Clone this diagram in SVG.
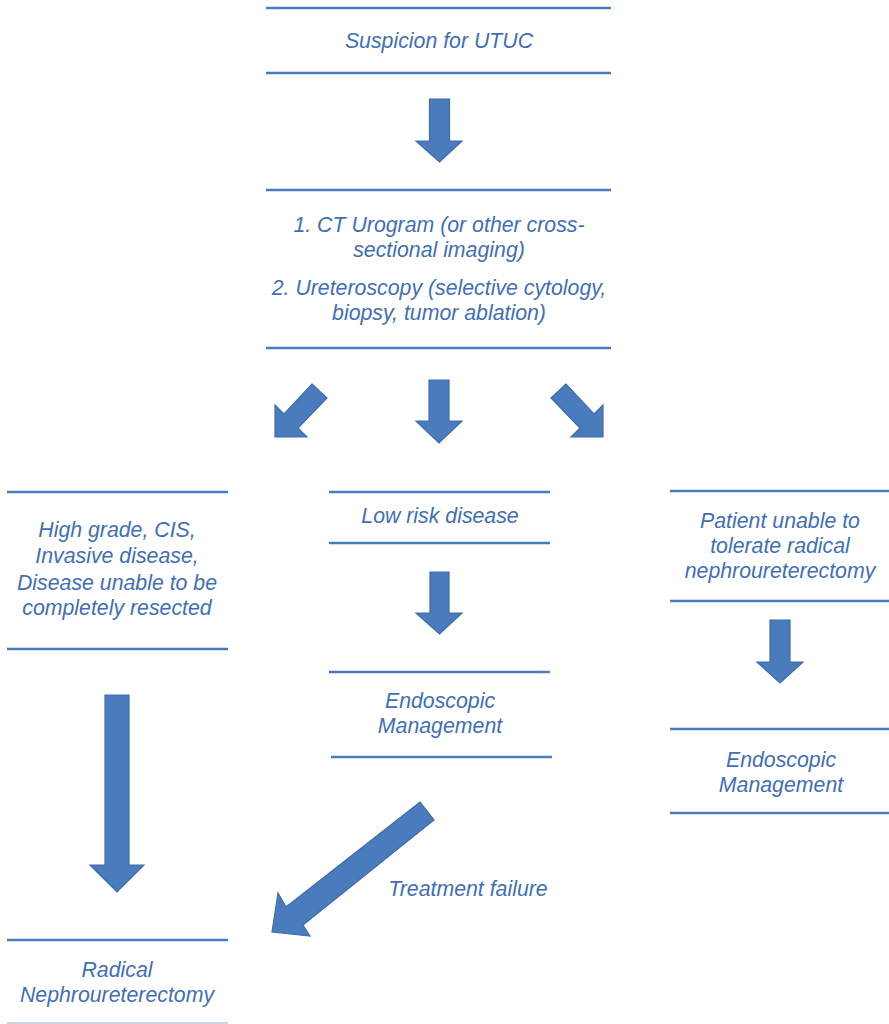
<svg xmlns="http://www.w3.org/2000/svg" width="889" height="1024" viewBox="0 0 889 1024">
<style>
.rule{stroke:#4a7bbf;stroke-width:2.6;fill:none}
.lbl{font-family:"Liberation Sans",Arial,sans-serif;font-style:italic;font-size:21.3px;fill:#3f6fb6;text-anchor:middle}
.arr{fill:#4a7bbd;stroke:#3f6cad;stroke-width:1.2;stroke-linejoin:miter}
</style>
<rect width="889" height="1024" fill="#ffffff"/>
<g id="n-suspicion">
<line class="rule" x1="266" y1="8" x2="611" y2="8"/>
<line class="rule" x1="266" y1="73" x2="611" y2="73"/>
<text class="lbl" x="439" y="48">Suspicion for UTUC</text>
</g>
<g id="n-workup">
<line class="rule" x1="266" y1="190" x2="611" y2="190"/>
<line class="rule" x1="266" y1="348" x2="611" y2="348"/>
<text class="lbl" x="439" y="232">1. CT Urogram (or other cross-</text>
<text class="lbl" x="439" y="257">sectional imaging)</text>
<text class="lbl" x="439" y="295">2. Ureteroscopy (selective cytology,</text>
<text class="lbl" x="439" y="320">biopsy, tumor ablation)</text>
</g>
<g id="n-highgrade">
<line class="rule" x1="7" y1="492" x2="228" y2="492"/>
<line class="rule" x1="7" y1="649" x2="228" y2="649"/>
<text class="lbl" x="117" y="537">High grade, CIS,</text>
<text class="lbl" x="117" y="563">Invasive disease,</text>
<text class="lbl" x="117" y="590">Disease unable to be</text>
<text class="lbl" x="117" y="615">completely resected</text>
</g>
<g id="n-lowrisk">
<line class="rule" x1="329" y1="492" x2="550" y2="492"/>
<line class="rule" x1="329" y1="543" x2="550" y2="543"/>
<text class="lbl" x="440" y="523">Low risk disease</text>
</g>
<g id="n-endo1">
<line class="rule" x1="329" y1="672" x2="550" y2="672"/>
<line class="rule" x1="331" y1="757" x2="552" y2="757"/>
<text class="lbl" x="440" y="708">Endoscopic</text>
<text class="lbl" x="440" y="733">Management</text>
</g>
<g id="n-patient">
<line class="rule" x1="670" y1="491" x2="889" y2="491"/>
<line class="rule" x1="670" y1="601" x2="889" y2="601"/>
<text class="lbl" x="780" y="528">Patient unable to</text>
<text class="lbl" x="780" y="553">tolerate radical</text>
<text class="lbl" x="780" y="578">nephroureterectomy</text>
</g>
<g id="n-endo2">
<line class="rule" x1="670" y1="729" x2="889" y2="729"/>
<line class="rule" x1="670" y1="813" x2="889" y2="813"/>
<text class="lbl" x="781" y="767">Endoscopic</text>
<text class="lbl" x="781" y="792">Management</text>
</g>
<g id="n-radical">
<line class="rule" x1="7" y1="940" x2="228" y2="940"/>
<line x1="7" y1="1023" x2="228" y2="1023" stroke="#c9d6e6" stroke-width="2"/>
<text class="lbl" x="117" y="977">Radical</text>
<text class="lbl" x="117" y="1002">Nephroureterectomy</text>
</g>
<g id="connectors">
<polygon class="arr" points="429.5,99 449.5,99 449.5,141 462,141 439.5,162 416,141 429.5,141"/>
<polygon class="arr" points="429,380 449,380 449,421 462,421 439,443 416,421 429,421"/>
<polygon class="arr" points="312,384 327,398 298,428 307,437 275,437 275,405 284,414"/>
<polygon class="arr" points="566,384 551,398 580,428 571,437 603,437 603,405 594,414"/>
<polygon class="arr" points="430,572 449,572 449,613 462,613 439.5,634 416,613 430,613"/>
<polygon class="arr" points="770,620 790,620 790,662 803,662 780,683 757,662 770,662"/>
<polygon class="arr" points="105,695 129,695 129,865 144,865 117,892 90,865 105,865"/>
<polygon class="arr" points="420,802 434,820 303,925 310,936 272,932 278,893 286,907"/>
<text class="lbl" x="468" y="896">Treatment failure</text>
</g>
</svg>
